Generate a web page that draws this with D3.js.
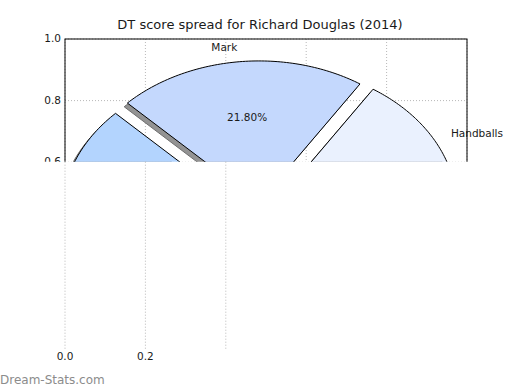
<!DOCTYPE html>
<meta charset="utf-8">
<head>
	<style type="text/css">
		body { margin: 0; background: #fff; }
		text { font-family: "DejaVu Sans", sans-serif; fill: #1a1a1a; }
		.grid { stroke: #b8b8b8; stroke-width: 1; stroke-dasharray: 1,2; }
		.spine { stroke: #000; stroke-width: 1; }
		.wedge { stroke: #000; stroke-width: 1; }
	</style>
	<title>DT score spread</title>
</head>

<script src="https://cdn.jsdelivr.net/npm/d3@7"></script>

<svg width="520" height="390" id="svg1"></svg>

<script>
	// slices, counter-clockwise from 3 o'clock
	const categories = ['Handballs', 'Mark', 'Tackle', 'Kick'];
	const shares = [15.80, 21.80, 25.40, 37.00];
	const sliceColors = ['#eaf1fe', '#c4d8fd', '#b3d4fe', '#d4e3fc'];

	const xTicks = [0, 0.2, 0.4, 0.6, 0.8, 1.0];
	const yTicks = [0, 0.2, 0.4, 0.6, 0.8, 1.0];
	// only this part of the lower half made it into the picture
	const xTicksLower = [0, 0.2, 0.4];
	const xLabelsLower = ['0.0', '0.2'];

	const svg1 = d3.select('#svg1');

	const x = d3.scaleLinear().domain([0, 1]).range([65, 467]);
	const y = d3.scaleLinear().domain([0, 1]).range([347, 39]);

	const pieCx = 0.486, pieCy = 0.436, radius = 0.46, explode = 0.033;
	const cutY = y(0.6) - 0.5;

	svg1.append('defs').append('clipPath').attr('id', 'topcut')
		.append('rect').attr('x', 0).attr('y', 0).attr('width', 520).attr('height', cutY);

	// title
	svg1.append('text')
		.attr('x', (x(0) + x(1)) / 2 - 6)
		.attr('y', 25)
		.attr('text-anchor', 'middle')
		.attr('dominant-baseline', 'middle')
		.style('font-size', '13px')
		.text('DT score spread for Richard Douglas (2014)');

	const upper = svg1.append('g').attr('clip-path', 'url(#topcut)');

	// grid under everything
	upper.selectAll('.gx').data(xTicks).enter().append('line')
		.attr('class', 'grid')
		.attr('x1', d => x(d)).attr('x2', d => x(d))
		.attr('y1', y(1)).attr('y2', y(0));
	upper.selectAll('.gy').data(yTicks).enter().append('line')
		.attr('class', 'grid')
		.attr('x1', x(0)).attr('x2', x(1))
		.attr('y1', d => y(d)).attr('y2', d => y(d));

	const arcs = d3.pie().sort(null).startAngle(0).endAngle(2 * Math.PI)(shares);

	const line = d3.line().x(p => x(p[0])).y(p => y(p[1]));

	function apex(d) {
		const mid = (d.startAngle + d.endAngle) / 2;
		return [pieCx + explode * Math.cos(mid), pieCy + explode * Math.sin(mid), mid];
	}

	function wedgePath(d, ox, oy) {
		const a = apex(d);
		const pts = [[a[0] + ox, a[1] + oy]];
		const n = 80;
		for (let i = 0; i <= n; i++) {
			const t = d.startAngle + (d.endAngle - d.startAngle) * i / n;
			pts.push([a[0] + ox + radius * Math.cos(t), a[1] + oy + radius * Math.sin(t)]);
		}
		return line(pts) + 'Z';
	}

	// shadows first
	upper.selectAll('.shadow').data(arcs).enter().append('path')
		.attr('d', d => wedgePath(d, -0.008, -0.012))
		.attr('fill', '#939393')
		.attr('stroke', '#6e6e6e')
		.attr('stroke-width', 1);

	upper.selectAll('.wedge').data(arcs).enter().append('path')
		.attr('class', 'wedge')
		.attr('d', d => wedgePath(d, 0, 0))
		.attr('fill', (d, i) => sliceColors[i]);

	// labels
	upper.selectAll('.lab').data(arcs).enter().append('text')
		.attr('x', d => { const a = apex(d); return x(a[0] + 1.1 * radius * Math.cos(a[2])); })
		.attr('y', d => { const a = apex(d); return y(a[1] + 1.1 * radius * Math.sin(a[2])); })
		.attr('text-anchor', d => Math.cos(apex(d)[2]) > 0 ? 'start' : 'end')
		.attr('dominant-baseline', 'middle')
		.style('font-size', '10.5px')
		.text((d, i) => categories[i]);

	upper.selectAll('.pct').data(arcs).enter().append('text')
		.attr('x', d => { const a = apex(d); return x(a[0] + 0.6 * radius * Math.cos(a[2])); })
		.attr('y', d => { const a = apex(d); return y(a[1] + 0.6 * radius * Math.sin(a[2])); })
		.attr('text-anchor', 'middle')
		.attr('dominant-baseline', 'middle')
		.style('font-size', '10.5px')
		.text(d => d3.format('.2f')(d.data) + '%');

	// frame
	upper.append('rect')
		.attr('class', 'spine')
		.attr('x', x(0)).attr('y', y(1))
		.attr('width', x(1) - x(0)).attr('height', y(0) - y(1))
		.attr('fill', 'none');

	upper.selectAll('.ylab').data(yTicks).enter().append('text')
		.attr('x', x(0) - 4)
		.attr('y', d => y(d))
		.attr('text-anchor', 'end')
		.attr('dominant-baseline', 'middle')
		.style('font-size', '10.5px')
		.text(d => d3.format('.1f')(d));

	// what is left of the lower half
	const lower = svg1.append('g');
	lower.selectAll('line').data(xTicksLower).enter().append('line')
		.attr('class', 'grid')
		.attr('x1', d => x(d)).attr('x2', d => x(d))
		.attr('y1', cutY).attr('y2', y(0) + 3);
	lower.selectAll('text').data(xLabelsLower).enter().append('text')
		.attr('x', (d, i) => x(xTicksLower[i]))
		.attr('y', y(0) + 10)
		.attr('text-anchor', 'middle')
		.attr('dominant-baseline', 'middle')
		.style('font-size', '10.5px')
		.text(d => d);

	svg1.append('text')
		.attr('x', 0)
		.attr('y', 380)
		.attr('dominant-baseline', 'middle')
		.style('font-size', '12px')
		.style('fill', '#8c8c8c')
		.text('Dream-Stats.com');
</script>
